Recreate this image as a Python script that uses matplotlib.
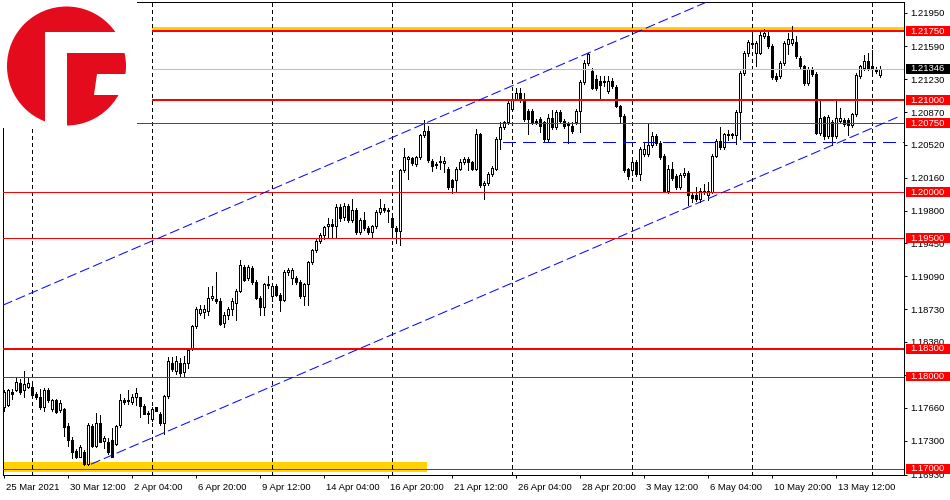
import numpy as np
import matplotlib
matplotlib.use("Agg")
import matplotlib.pyplot as plt
from matplotlib.patches import Rectangle, Circle, Polygon
from matplotlib.collections import PatchCollection
import matplotlib.transforms as mtransforms

plt.rcParams['lines.scale_dashes'] = False
plt.rcParams['font.family'] = ['Liberation Sans', 'DejaVu Sans']

# ---------------- data (EURUSD H4, bar index 0 = 29 Mar 2021 00:00) ----------------
first_bar = -7
opens = [
    1.1767, 1.1769, 1.1783, 1.1785, 1.1793, 1.1785, 1.1789,
    1.1789, 1.1781, 1.1778, 1.1767, 1.1785, 1.1765, 1.1774, 1.1764, 1.1765, 1.1746,
    1.1731, 1.1719, 1.1713, 1.1718, 1.1705, 1.1746, 1.1725, 1.1749, 1.1730, 1.1729,
    1.1731, 1.1727, 1.1747, 1.1774, 1.1773, 1.1772, 1.1778, 1.1778, 1.1768, 1.1760,
    1.1754, 1.1767, 1.1759, 1.1749, 1.1779, 1.1815, 1.1806, 1.1815, 1.1805, 1.1815,
    1.1831, 1.1855, 1.1869, 1.1870, 1.1871, 1.1885, 1.1884, 1.1882, 1.1858, 1.1867,
    1.1873, 1.1880, 1.1893, 1.1919, 1.1907, 1.1918, 1.1903, 1.1885, 1.1876, 1.1900,
    1.1887, 1.1898, 1.1889, 1.1883, 1.1914, 1.1907, 1.1907, 1.1903, 1.1887, 1.1900,
    1.1924, 1.1937, 1.1947, 1.1954, 1.1963, 1.1966, 1.1963, 1.1984, 1.1973, 1.1985,
    1.1970, 1.1981, 1.1957, 1.1970, 1.1961, 1.1957, 1.1963, 1.1979, 1.1983, 1.1981,
    1.1972, 1.1961, 1.1958, 1.2024, 1.2036, 1.2037, 1.2031, 1.2038, 1.2062, 1.2067,
    1.2034, 1.2031, 1.2034, 1.2032, 1.2026, 1.2013, 1.2013, 1.2026, 1.2033, 1.2036,
    1.2033, 1.2026, 1.2063, 1.2008, 1.2010, 1.2020, 1.2026, 1.2058, 1.2071, 1.2076,
    1.2091, 1.2102, 1.2108, 1.2101, 1.2089, 1.2089, 1.2078, 1.2080, 1.2076, 1.2058,
    1.2081, 1.2071, 1.2087, 1.2078, 1.2074, 1.2072, 1.2076, 1.2089, 1.2120, 1.2141,
    1.2132, 1.2123, 1.2121, 1.2121, 1.2110, 1.2121, 1.2115, 1.2094, 1.2083, 1.2025,
    1.2024, 1.2033, 1.2020, 1.2042, 1.2042, 1.2051, 1.2061, 1.2054, 1.2040, 1.2002,
    1.2025, 1.2018, 1.2006, 1.2019, 1.2021, 1.1997, 1.1997, 1.1993, 1.2002, 1.1997,
    1.2001, 1.2040, 1.2056, 1.2049, 1.2062, 1.2063, 1.2062, 1.2087, 1.2130, 1.2151,
    1.2161, 1.2152, 1.2152, 1.2170, 1.2170, 1.2159, 1.2127, 1.2126, 1.2141, 1.2161,
    1.2162, 1.2163, 1.2146, 1.2137, 1.2119, 1.2134, 1.2129, 1.2065, 1.2082, 1.2061,
    1.2077, 1.2061, 1.2078, 1.2079, 1.2079, 1.2073, 1.2085, 1.2126, 1.2135, 1.2143,
    1.2137, 1.2134, 1.2128,
]
highs = [
    1.1785, 1.1786, 1.1786, 1.1799, 1.1797, 1.1806, 1.1799,
    1.1792, 1.1783, 1.1786, 1.1788, 1.1787, 1.1776, 1.1776, 1.1775, 1.1766, 1.1749,
    1.1734, 1.1721, 1.1726, 1.1720, 1.1749, 1.1748, 1.1760, 1.1758, 1.1735, 1.1733,
    1.1744, 1.1747, 1.1781, 1.1777, 1.1785, 1.1781, 1.1787, 1.1778, 1.1770, 1.1763,
    1.1767, 1.1767, 1.1761, 1.1780, 1.1821, 1.1821, 1.1822, 1.1820, 1.1822, 1.1831,
    1.1856, 1.1875, 1.1878, 1.1878, 1.1897, 1.1898, 1.1914, 1.1885, 1.1870, 1.1875,
    1.1885, 1.1895, 1.1927, 1.1921, 1.1921, 1.1920, 1.1905, 1.1887, 1.1902, 1.1909,
    1.1900, 1.1900, 1.1891, 1.1916, 1.1918, 1.1918, 1.1909, 1.1905, 1.1902, 1.1926,
    1.1939, 1.1949, 1.1956, 1.1964, 1.1972, 1.1971, 1.1987, 1.1987, 1.1989, 1.1987,
    1.1993, 1.1983, 1.1972, 1.1979, 1.1963, 1.1965, 1.1981, 1.1993, 1.1987, 1.1983,
    1.1974, 1.1963, 1.2026, 1.2048, 1.2040, 1.2039, 1.2040, 1.2063, 1.2079, 1.2072,
    1.2036, 1.2033, 1.2040, 1.2038, 1.2028, 1.2015, 1.2028, 1.2036, 1.2038, 1.2038,
    1.2034, 1.2069, 1.2065, 1.2012, 1.2022, 1.2029, 1.2060, 1.2076, 1.2078, 1.2099,
    1.2108, 1.2114, 1.2114, 1.2108, 1.2091, 1.2091, 1.2080, 1.2082, 1.2078, 1.2085,
    1.2090, 1.2090, 1.2090, 1.2080, 1.2076, 1.2076, 1.2091, 1.2122, 1.2144, 1.2151,
    1.2135, 1.2128, 1.2126, 1.2126, 1.2126, 1.2124, 1.2117, 1.2095, 1.2085, 1.2027,
    1.2035, 1.2035, 1.2049, 1.2055, 1.2074, 1.2066, 1.2063, 1.2056, 1.2042, 1.2030,
    1.2033, 1.2020, 1.2021, 1.2027, 1.2023, 1.1999, 1.2006, 1.2005, 1.2009, 1.2011,
    1.2042, 1.2058, 1.2071, 1.2065, 1.2068, 1.2065, 1.2090, 1.2132, 1.2154, 1.2166,
    1.2175, 1.2165, 1.2175, 1.2178, 1.2175, 1.2161, 1.2130, 1.2143, 1.2164, 1.2173,
    1.2181, 1.2170, 1.2148, 1.2139, 1.2136, 1.2136, 1.2131, 1.2101, 1.2083, 1.2084,
    1.2079, 1.2101, 1.2092, 1.2081, 1.2081, 1.2086, 1.2130, 1.2138, 1.2149, 1.2152,
    1.2155, 1.2136, 1.2137,
]
lows = [
    1.1762, 1.1768, 1.1776, 1.1784, 1.1781, 1.1778, 1.1787,
    1.1778, 1.1776, 1.1765, 1.1763, 1.1772, 1.1763, 1.1760, 1.1761, 1.1735, 1.1724,
    1.1711, 1.1712, 1.1713, 1.1704, 1.1704, 1.1723, 1.1723, 1.1729, 1.1722, 1.1716,
    1.1713, 1.1726, 1.1745, 1.1770, 1.1770, 1.1770, 1.1769, 1.1756, 1.1759, 1.1750,
    1.1752, 1.1762, 1.1747, 1.1738, 1.1777, 1.1806, 1.1803, 1.1801, 1.1801, 1.1809,
    1.1829, 1.1853, 1.1867, 1.1864, 1.1867, 1.1883, 1.1880, 1.1856, 1.1854, 1.1863,
    1.1867, 1.1861, 1.1892, 1.1904, 1.1905, 1.1901, 1.1884, 1.1867, 1.1867, 1.1896,
    1.1882, 1.1887, 1.1871, 1.1882, 1.1910, 1.1900, 1.1901, 1.1885, 1.1878, 1.1878,
    1.1922, 1.1935, 1.1945, 1.1949, 1.1950, 1.1950, 1.1950, 1.1969, 1.1970, 1.1968,
    1.1968, 1.1955, 1.1955, 1.1959, 1.1955, 1.1950, 1.1961, 1.1977, 1.1979, 1.1968,
    1.1954, 1.1945, 1.1943, 1.2022, 1.2015, 1.2030, 1.2029, 1.2036, 1.2060, 1.2033,
    1.2023, 1.2027, 1.2026, 1.2022, 1.2004, 1.1999, 1.2000, 1.2024, 1.2031, 1.2024,
    1.2024, 1.2024, 1.2006, 1.1993, 1.2008, 1.2018, 1.2024, 1.2047, 1.2069, 1.2074,
    1.2089, 1.2100, 1.2098, 1.2078, 1.2063, 1.2074, 1.2074, 1.2066, 1.2056, 1.2056,
    1.2069, 1.2069, 1.2076, 1.2070, 1.2054, 1.2065, 1.2074, 1.2066, 1.2118, 1.2139,
    1.2112, 1.2111, 1.2101, 1.2116, 1.2108, 1.2114, 1.2093, 1.2076, 1.2022, 1.2015,
    1.2019, 1.2018, 1.2013, 1.2040, 1.2040, 1.2049, 1.2052, 1.2036, 1.2000, 1.1999,
    1.2014, 1.2004, 1.2004, 1.2017, 1.1986, 1.1990, 1.1991, 1.1990, 1.1998, 1.1992,
    1.1999, 1.2038, 1.2047, 1.2047, 1.2057, 1.2059, 1.2053, 1.2058, 1.2128, 1.2148,
    1.2158, 1.2137, 1.2150, 1.2168, 1.2157, 1.2123, 1.2121, 1.2124, 1.2139, 1.2150,
    1.2160, 1.2146, 1.2135, 1.2117, 1.2117, 1.2127, 1.2063, 1.2062, 1.2058, 1.2059,
    1.2051, 1.2059, 1.2076, 1.2072, 1.2062, 1.2071, 1.2083, 1.2124, 1.2133, 1.2133,
    1.2129, 1.2130, 1.2125,
]
closes = [
    1.1783, 1.1785, 1.1781, 1.1794, 1.1783, 1.1792, 1.1793,
    1.1780, 1.1778, 1.1767, 1.1785, 1.1774, 1.1774, 1.1761, 1.1771, 1.1745, 1.1731,
    1.1718, 1.1713, 1.1723, 1.1705, 1.1747, 1.1725, 1.1750, 1.1729, 1.1733, 1.1718,
    1.1713, 1.1746, 1.1774, 1.1772, 1.1774, 1.1778, 1.1782, 1.1768, 1.1759, 1.1759,
    1.1765, 1.1763, 1.1749, 1.1779, 1.1817, 1.1808, 1.1817, 1.1804, 1.1815, 1.1829,
    1.1855, 1.1873, 1.1873, 1.1873, 1.1885, 1.1887, 1.1882, 1.1857, 1.1867, 1.1873,
    1.1882, 1.1893, 1.1921, 1.1905, 1.1919, 1.1903, 1.1885, 1.1876, 1.1900, 1.1899,
    1.1898, 1.1889, 1.1883, 1.1914, 1.1916, 1.1916, 1.1903, 1.1887, 1.1900, 1.1924,
    1.1937, 1.1947, 1.1954, 1.1962, 1.1966, 1.1963, 1.1984, 1.1972, 1.1985, 1.1970,
    1.1981, 1.1957, 1.1970, 1.1961, 1.1957, 1.1963, 1.1979, 1.1983, 1.1981, 1.1980,
    1.1962, 1.1958, 1.2024, 1.2039, 1.2039, 1.2032, 1.2038, 1.2062, 1.2067, 1.2035,
    1.2029, 1.2030, 1.2033, 1.2034, 1.2006, 1.2006, 1.2026, 1.2033, 1.2036, 1.2033,
    1.2026, 1.2063, 1.2008, 1.2010, 1.2020, 1.2027, 1.2058, 1.2071, 1.2076, 1.2097,
    1.2102, 1.2108, 1.2101, 1.2080, 1.2080, 1.2076, 1.2077, 1.2072, 1.2058, 1.2081,
    1.2071, 1.2087, 1.2078, 1.2072, 1.2073, 1.2067, 1.2089, 1.2120, 1.2141, 1.2150,
    1.2114, 1.2113, 1.2117, 1.2120, 1.2121, 1.2116, 1.2094, 1.2083, 1.2024, 1.2018,
    1.2033, 1.2020, 1.2047, 1.2047, 1.2052, 1.2061, 1.2054, 1.2038, 1.2002, 1.2025,
    1.2016, 1.2006, 1.2019, 1.2021, 1.1997, 1.1994, 1.1993, 1.2002, 1.2000, 1.2002,
    1.2040, 1.2056, 1.2049, 1.2063, 1.2063, 1.2062, 1.2087, 1.2130, 1.2151, 1.2163,
    1.2162, 1.2162, 1.2171, 1.2173, 1.2159, 1.2125, 1.2123, 1.2141, 1.2162, 1.2167,
    1.2167, 1.2148, 1.2137, 1.2119, 1.2134, 1.2129, 1.2065, 1.2081, 1.2061, 1.2082,
    1.2061, 1.2081, 1.2081, 1.2074, 1.2073, 1.2085, 1.2128, 1.2137, 1.2143, 1.2134,
    1.2134, 1.2132, 1.21346,
]

x_labels = ["25 Mar 2021", "30 Mar 12:00", "2 Apr 04:00", "6 Apr 20:00", "9 Apr 12:00",
            "14 Apr 04:00", "16 Apr 20:00", "21 Apr 12:00", "26 Apr 04:00", "28 Apr 20:00",
            "3 May 12:00", "6 May 04:00", "10 May 20:00", "13 May 12:00"]
x_label_bars = [-7, 9, 25, 41, 57, 73, 89, 105, 121, 137, 153, 169, 185, 201]
week_starts = [0, 30, 60, 90, 120, 150, 180, 210]

y_ticks = [1.21950, 1.21590, 1.21230, 1.20870, 1.20520, 1.20160, 1.19800, 1.19450,
           1.19090, 1.18730, 1.18380, 1.18020, 1.17660, 1.17300, 1.16930]

red_levels = [1.2175, 1.2100, 1.2075, 1.2000, 1.1950, 1.1830, 1.1800, 1.1700]
red_level_px = [2, 2, 1, 1, 1, 2, 1, 1]
red_level_start = [30, 30, None, None, None, None, None, None]
bid_price = 1.21346
band_top = (30, 1.2175, 1.2180)          # start bar, low, high
band_bottom = (98.75, 1.1696, 1.17068)   # end bar, low, high
channel_upper = ([-7.2, 168.8], [1.18775, 1.2207])
channel_lower = ([14.8, 217.1], [1.17047, 1.2083])
mid_dash_level = 1.20544
mid_dash_start = 117.8

x_range = (-7.175, 218.075)
y_range = (1.169638, 1.220691)

# ---------------- figure ----------------
W, H, DPI = 950, 500, 100
PX = 72.0 / DPI   # points per pixel
fig = plt.figure(figsize=(W / DPI, H / DPI), dpi=DPI, facecolor='white')
ax = fig.add_axes([3 / W, (H - 475) / H, (904 - 3) / W, (475 - 2) / H])
ax.set_xlim(*x_range)
ax.set_ylim(*y_range)
for s in ax.spines.values():
    s.set_linewidth(PX)
    s.set_color('black')

n = len(opens)
xs = np.arange(n) + first_bar
O = np.array(opens); Hh = np.array(highs); L = np.array(lows); C = np.array(closes)

# background bands
ax.add_patch(Rectangle((band_top[0], band_top[1]), x_range[1] - band_top[0], band_top[2] - band_top[1],
                       fc='#FFD200', ec='none', zorder=1))
ax.add_patch(Rectangle((x_range[0], band_bottom[1]), band_bottom[0] - x_range[0], band_bottom[2] - band_bottom[1],
                       fc='#FFD200', ec='none', zorder=1))

# week separators
for w in week_starts:
    ax.axvline(w, color='black', lw=PX, dashes=(3 * PX, 3 * PX), zorder=1.5, antialiased=False)

# candles
ax.vlines(xs, L, Hh, color='black', lw=PX, zorder=2, antialiased=False)
bw = 0.5
patches_bull, patches_bear = [], []
for xi, o, c in zip(xs, O, C):
    lo = min(o, c); h = max(abs(c - o), 0.000015)
    r = Rectangle((xi - bw / 2, lo), bw, h)
    (patches_bull if c >= o else patches_bear).append(r)
ax.add_collection(PatchCollection(patches_bull, facecolor='white', edgecolor='black',
                                  linewidths=PX, zorder=3, antialiased=False))
ax.add_collection(PatchCollection(patches_bear, facecolor='black', edgecolor='black',
                                  linewidths=PX, zorder=3, antialiased=False))

# bid line
ax.hlines(bid_price, band_top[0], x_range[1], color='#C0C0C0', lw=PX, zorder=4, antialiased=False)

# red levels
for lv, wpx, st in zip(red_levels, red_level_px, red_level_start):
    x0 = x_range[0] if st is None else st
    ax.hlines(lv, x0, x_range[1], color='#FF0000', lw=wpx * PX, zorder=5, antialiased=False)

# blue lines
ax.plot(*channel_upper, color='#0000FF', lw=PX, dashes=(10 * PX, 4 * PX), zorder=5)
ax.plot(*channel_lower, color='#0000FF', lw=PX, dashes=(10 * PX, 4 * PX), zorder=5)
ax.hlines(mid_dash_level, mid_dash_start, x_range[1], color='#0000FF', lw=PX,
          linestyles=[(0, (12 * PX, 7 * PX))], zorder=5, antialiased=False)

# axes ticks
FS = 6.8
ax.yaxis.tick_right()
ax.set_yticks(y_ticks)
ax.set_yticklabels([f"{v:.5f}" for v in y_ticks])
ax.tick_params(axis='y', direction='out', length=3 * PX, width=PX, pad=3 * PX,
               labelsize=FS, colors='black')
ax.set_xticks(x_label_bars)
ax.set_xticklabels([])
ax.tick_params(axis='x', direction='out', length=3 * PX, width=PX)

xtrans = mtransforms.blended_transform_factory(ax.transData, ax.transAxes) + \
    mtransforms.ScaledTranslation(2 / DPI, -13 / DPI, fig.dpi_scale_trans)
for b, lab in zip(x_label_bars, x_labels):
    ax.text(b, 0, lab, transform=xtrans, ha='left', va='center', fontsize=FS, clip_on=False)

# price labels on the right axis
ytrans = mtransforms.blended_transform_factory(fig.transFigure, ax.transData)
box_h = 10 / ((475 - 2) / (y_range[1] - y_range[0]))
label_levels = red_levels + [bid_price]
label_colors = ['#FF0000'] * len(red_levels) + ['black']
for lv, col in zip(label_levels, label_colors):
    fig.add_artist(Rectangle((905.5 / W, lv - box_h / 2), (W - 905.5) / W, box_h,
                             transform=ytrans, fc=col, ec='none', zorder=5))
    fig.text(910 / W, lv, f"{lv:.5f}", transform=ytrans, color='white', fontsize=FS,
             ha='left', va='center', zorder=6)

# logo
lax = fig.add_axes([0, 1 - 128 / H, 137 / W, 128 / H], zorder=10)
lax.set_xlim(0, 137)
lax.set_ylim(128, 0)
lax.axis('off')
lax.add_patch(Rectangle((0, 0), 137, 128, fc='white', ec='none'))
red = '#E30B1C'
lax.add_patch(Circle((66.5, 66), 59.5, fc=red, ec='none'))
lax.add_patch(Rectangle((45, 32.3), 21.7, 100, fc='white', ec='none'))
lax.add_patch(Rectangle((45, 32.3), 90, 21, fc='white', ec='none'))
lax.add_patch(Polygon([(97, 74), (130, 74), (130, 95), (93.5, 95)], closed=True, fc='white', ec='none'))

fig.savefig('out.png', dpi=DPI, facecolor='white')
